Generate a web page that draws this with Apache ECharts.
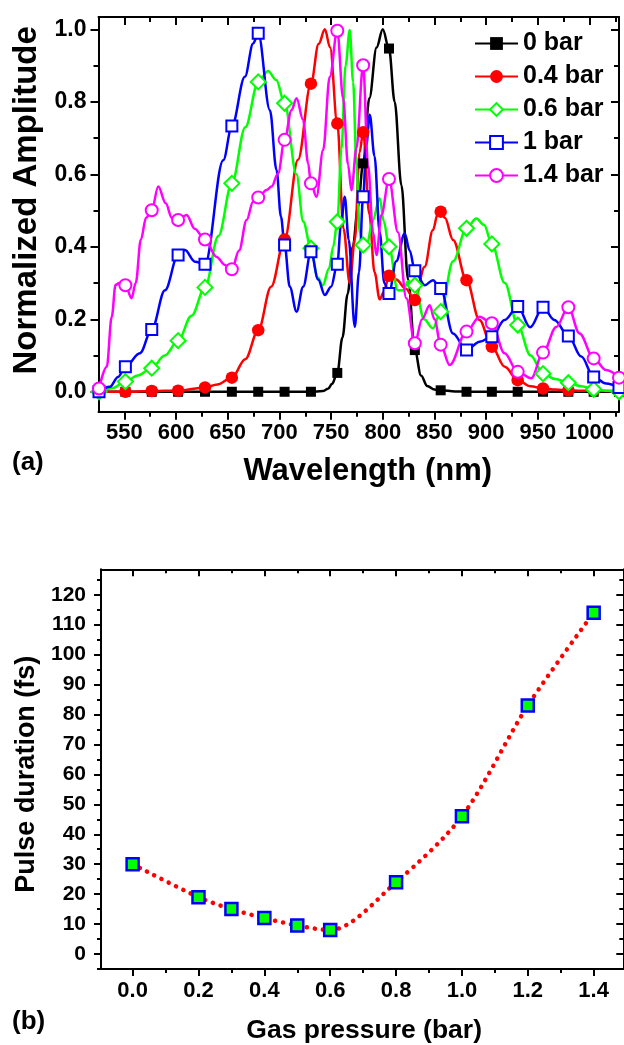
<!DOCTYPE html>
<html>
<head>
<meta charset="utf-8">
<script src="https://cdn.jsdelivr.net/npm/echarts@6/dist/echarts.min.js"></script>
<style>
  html, body { margin: 0; padding: 0; background: #fff; }
  #chart { width: 624px; height: 1045px; }
</style>
</head>
<body>
<div id="chart"></div>
<script>
// ---- (a) spectra ----
// wavelengths where the symbols sit (shared by all five spectra)
const markerWl = [525.5, 551, 576.5, 602, 628, 654, 679.5, 705, 730.5, 756, 781, 806, 831, 856, 881, 905.5, 930.5, 955, 979.5, 1004, 1028.5]
const seriesNames = ['0 bar', '0.4 bar', '0.6 bar', '1 bar', '1.4 bar']

const bar0Marks = [0, 0, 0, 0, 0, 0, 0, 0, 0, 0.052, 0.63, 0.947, 0.115, 0.004, 0, 0, 0, 0, 0, 0, 0]
const bar0Curve = [[700, 0], [742, 0.002], [747, 0.008], [751, 0.022], [761, 0.15], [766, 0.27], [771, 0.4], [776, 0.51],
  [787, 0.81], [794, 0.95], [800, 1.0], [811.5, 0.8], [818, 0.57], [824.5, 0.31], [837, 0.045], [843, 0.016], [850, 0.006], [870, 0.001]]

const bar04Marks = [0, 0, 0.002, 0.003, 0.012, 0.039, 0.17, 0.42, 0.85, 0.74, 0.716, 0.32, 0.253, 0.497, 0.308, 0.124, 0.032, 0.009, 0.004, 0.003, 0.002]
const bar04Curve = [[640, 0.02], [667, 0.09], [692, 0.29], [718, 0.64], [738, 0.96], [744, 1.0], [749, 0.95], [762, 0.45], [768, 0.3],
  [773, 0.42], [777.5, 0.66], [787, 0.49], [792, 0.33], [797, 0.255], [801, 0.275], [813, 0.31], [822, 0.285], [840.5, 0.345],
  [848.5, 0.446], [853, 0.49], [860, 0.48], [868, 0.419], [893.5, 0.198], [918, 0.069], [943, 0.015], [967, 0.006], [992, 0.003], [1016, 0.002]]

const bar06Marks = [0, 0.028, 0.065, 0.141, 0.288, 0.575, 0.855, 0.796, 0.396, 0.469, 0.405, 0.4, 0.294, 0.221, 0.451, 0.408, 0.184, 0.05, 0.025, 0.007, 0]
const bar06Curve = [[538, 0.01], [563, 0.045], [589, 0.1], [615, 0.21], [641, 0.43], [667, 0.73], [689, 0.885], [697, 0.86],
  [716.5, 0.6], [723, 0.47], [737, 0.315], [742, 0.294], [748, 0.34], [752, 0.4], [760, 0.67], [764, 0.9], [768, 0.998],
  [771.3, 0.855], [774.5, 0.626], [777.7, 0.44], [785, 0.41], [790, 0.47], [797, 0.534], [801, 0.47], [814.5, 0.28],
  [819.5, 0.28], [824.5, 0.305], [840, 0.2], [848.5, 0.175], [868, 0.36], [890.5, 0.478], [898, 0.46], [918, 0.3],
  [943, 0.1], [967, 0.035], [992, 0.015], [1016, 0.003]]

const bar1Marks = [0, 0.069, 0.172, 0.377, 0.352, 0.733, 0.989, 0.405, 0.386, 0.352, 0.538, 0.271, 0.334, 0.285, 0.115, 0.152, 0.235, 0.233, 0.154, 0.041, 0.012]
const bar1Curve = [[536, 0.014], [544, 0.041], [565, 0.106], [589.3, 0.28], [608.6, 0.391], [618.3, 0.359], [645.7, 0.639],
  [666.6, 0.869], [674.6, 0.961], [690.8, 0.777], [697.2, 0.612], [701.5, 0.483], [710, 0.29], [716.6, 0.221], [723, 0.29],
  [737.5, 0.31], [743.9, 0.267], [750, 0.29], [759.5, 0.46], [763.2, 0.538], [767, 0.42], [772.9, 0.179], [777, 0.33],
  [784, 0.68], [787.4, 0.764], [792, 0.65], [797, 0.44], [801.5, 0.3], [813, 0.36], [821.2, 0.437], [826, 0.39],
  [840.6, 0.294], [848.6, 0.308], [867.9, 0.161], [893.7, 0.138], [917.8, 0.198], [942.6, 0.178], [966, 0.198],
  [992, 0.097], [1016, 0.023]]

const bar14Marks = [0.009, 0.294, 0.501, 0.474, 0.42, 0.338, 0.536, 0.695, 0.575, 0.996, 0.901, 0.587, 0.134, 0.13, 0.166, 0.189, 0.055, 0.108, 0.233, 0.092, 0.039]
const bar14Curve = [[533, 0.069], [537.8, 0.207], [541.5, 0.295], [545, 0.3], [557, 0.258], [561, 0.3], [566, 0.42], [571, 0.48],
  [582.8, 0.566], [590, 0.52], [596, 0.48], [610.3, 0.488], [618, 0.45], [639.3, 0.372], [647.3, 0.35], [661, 0.39],
  [668.3, 0.474], [674.6, 0.525], [687.6, 0.557], [692.4, 0.566], [698.8, 0.603], [711.7, 0.777], [716.6, 0.81],
  [722.9, 0.75], [727.8, 0.63], [735.9, 0.538], [742.3, 0.667], [748.7, 0.869], [761.6, 0.81], [766.4, 0.626],
  [769.7, 0.556], [774.5, 0.672], [785.7, 0.626], [790.6, 0.44], [793.9, 0.377], [798.7, 0.488], [814.7, 0.44],
  [822.8, 0.258], [838, 0.2], [845.4, 0.239], [850, 0.2], [864.7, 0.074], [893.7, 0.207], [917.8, 0.106],
  [943.6, 0.037], [967.8, 0.179], [990.3, 0.161], [1016, 0.06]]

// ---- (b) pulse duration ----
const gasPressure = [0, 0.2, 0.3, 0.4, 0.5, 0.6, 0.8, 1.0, 1.2, 1.4]
const pulseDuration = [30, 19, 15, 12, 9.5, 8, 24, 46, 83, 114]

// ---- ticks ----
const wlTicks = [550, 600, 650, 700, 750, 800, 850, 900, 950, 1000]
const wlMinor = [575, 625, 675, 725, 775, 825, 875, 925, 975, 1025]
const ampTicks = [0, 0.2, 0.4, 0.6, 0.8, 1.0]
const ampMinor = [0.1, 0.3, 0.5, 0.7, 0.9]
const pTicks = [0, 0.2, 0.4, 0.6, 0.8, 1.0, 1.2, 1.4]
const pMinor = [-0.1, 0.1, 0.3, 0.5, 0.7, 0.9, 1.1, 1.3]
const fsTicks = [0, 10, 20, 30, 40, 50, 60, 70, 80, 90, 100, 110, 120]
const fsMinor = [-5, 5, 15, 25, 35, 45, 55, 65, 75, 85, 95, 105, 115, 125]

const FONT = '"Liberation Sans", Arial, sans-serif'
const spine = { show: true, onZero: false, lineStyle: { color: '#000', width: 2 } }
const tickLine = { color: '#000', width: 2 }

function axis(o) {
  return Object.assign({
    type: 'value',
    splitLine: { show: false },
    axisLine: { show: false, onZero: false },
    axisTick: { show: false },
    axisLabel: { show: false },
  }, o)
}

function ticks(values, length, inside) {
  return { show: true, inside: inside, length: length, customValues: values, lineStyle: tickLine }
}

function labels(values, size, margin, fmt) {
  return { show: true, customValues: values, fontSize: size, fontWeight: 'bold', color: '#000', fontFamily: FONT, margin: margin, formatter: fmt }
}

function spectrum(curve, marks) {
  const pts = curve.map((p) => ({ value: p, symbol: 'none' }))
  marks.forEach((v, i) => pts.push({ value: [markerWl[i], v] }))
  return pts.sort((a, b) => a.value[0] - b.value[0])
}

const styles = [
  { color: '#000000', symbol: 'rect', size: 10 },
  { color: '#ff0000', symbol: 'circle', size: 12.5 },
  { color: '#00ff00', symbol: 'emptyDiamond', size: 15 },
  { color: '#0000ff', symbol: 'emptyRect', size: 11 },
  { color: '#ff00ff', symbol: 'emptyCircle', size: 12 },
]
const curves = [bar0Curve, bar04Curve, bar06Curve, bar1Curve, bar14Curve]
const marks = [bar0Marks, bar04Marks, bar06Marks, bar1Marks, bar14Marks]

const wl = { min: 525, max: 1028.5 }
const amp = { min: -0.055, max: 1.034 }
const gp = { min: -0.096, max: 1.49 }
const fs = { min: -5, max: 128.5 }

const chart = echarts.init(document.getElementById('chart'), null, { renderer: 'canvas' })

chart.setOption({
  animation: false,
  backgroundColor: '#fff',
  grid: [
    { left: 98.5, top: 17, width: 520.5, height: 394.7 },
    { left: 101, top: 569.3, width: 522.3, height: 400.7 },
  ],
  legend: {
    data: seriesNames,
    orient: 'vertical',
    left: 469,
    top: 26,
    itemWidth: 43,
    itemHeight: 16,
    itemGap: 8,
    textStyle: { fontSize: 25, fontWeight: 'bold', color: '#000', fontFamily: FONT },
  },
  xAxis: [
    axis(Object.assign({ gridIndex: 0, position: 'bottom', axisLine: spine,
      axisTick: ticks(wlTicks, 8, false), axisLabel: labels(wlTicks, 22, 10, (v) => String(Math.round(v))),
      name: 'Wavelength (nm)', nameLocation: 'middle', nameGap: 44,
      nameTextStyle: { fontSize: 31, fontWeight: 'bold', color: '#000', fontFamily: FONT, padding: [0, 0, 0, 18] } }, wl)),
    axis(Object.assign({ gridIndex: 0, position: 'bottom', axisTick: ticks(wlMinor, 5, false) }, wl)),
    axis(Object.assign({ gridIndex: 0, position: 'top', axisLine: spine, axisTick: ticks(wlTicks, 8, true) }, wl)),
    axis(Object.assign({ gridIndex: 0, position: 'top', axisTick: ticks(wlMinor, 5, true) }, wl)),

    axis(Object.assign({ gridIndex: 1, position: 'bottom', axisLine: spine,
      axisTick: ticks(pTicks, 7, false), axisLabel: labels(pTicks, 22, 11, (v) => v.toFixed(1)),
      name: 'Gas pressure (bar)', nameLocation: 'middle', nameGap: 48,
      nameTextStyle: { fontSize: 26.5, fontWeight: 'bold', color: '#000', fontFamily: FONT, padding: [0, 0, 0, 4] } }, gp)),
    axis(Object.assign({ gridIndex: 1, position: 'bottom', axisTick: ticks(pMinor, 4, false) }, gp)),
    axis(Object.assign({ gridIndex: 1, position: 'top', axisLine: spine, axisTick: ticks(pTicks, 7, true) }, gp)),
    axis(Object.assign({ gridIndex: 1, position: 'top', axisTick: ticks(pMinor, 4, true) }, gp)),
  ],
  yAxis: [
    axis(Object.assign({ gridIndex: 0, position: 'left', axisLine: spine,
      axisTick: ticks(ampTicks, 8, false), axisLabel: labels(ampTicks, 23, 12, (v) => v.toFixed(1)),
      name: 'Normalized Amplitude', nameLocation: 'middle', nameGap: 43,
      nameTextStyle: { fontSize: 33, fontWeight: 'bold', color: '#000', fontFamily: FONT, padding: [0, 0, 0, 28] } }, amp)),
    axis(Object.assign({ gridIndex: 0, position: 'left', axisTick: ticks(ampMinor, 5, false) }, amp)),
    axis(Object.assign({ gridIndex: 0, position: 'right', axisLine: spine, axisTick: ticks(ampTicks, 8, true) }, amp)),
    axis(Object.assign({ gridIndex: 0, position: 'right', axisTick: ticks(ampMinor, 5, true) }, amp)),

    axis(Object.assign({ gridIndex: 1, position: 'left', axisLine: spine,
      axisTick: ticks(fsTicks, 7, false), axisLabel: labels(fsTicks, 21, 15, (v) => String(Math.round(v))),
      name: 'Pulse duration (fs)', nameLocation: 'middle', nameGap: 58,
      nameTextStyle: { fontSize: 27, fontWeight: 'bold', color: '#000', fontFamily: FONT, padding: [0, 10, 0, 0] } }, fs)),
    axis(Object.assign({ gridIndex: 1, position: 'left', axisTick: ticks(fsMinor, 4, false) }, fs)),
    axis(Object.assign({ gridIndex: 1, position: 'right', axisLine: spine, axisTick: ticks(fsTicks, 7, true) }, fs)),
    axis(Object.assign({ gridIndex: 1, position: 'right', axisTick: ticks(fsMinor, 4, true) }, fs)),
  ],
  graphic: [
    { type: 'text', left: 12, top: 450, style: { text: '(a)', font: 'bold 26px "Liberation Sans", Arial', fill: '#000' } },
    { type: 'text', left: 12, top: 1009, style: { text: '(b)', font: 'bold 26px "Liberation Sans", Arial', fill: '#000' } },
  ],
  series: seriesNames.map((name, i) => ({
    name: name,
    type: 'line',
    xAxisIndex: 0,
    yAxisIndex: 0,
    data: spectrum(curves[i], marks[i]),
    smooth: 0.35,
    smoothMonotone: 'x',
    symbol: styles[i].symbol,
    symbolSize: styles[i].size,
    lineStyle: { color: styles[i].color, width: 2.5 },
    itemStyle: { color: styles[i].color, borderWidth: 2 },
    emphasis: { disabled: true },
  })).concat([{
    name: 'Pulse duration',
    type: 'line',
    xAxisIndex: 4,
    yAxisIndex: 4,
    data: gasPressure.map((p, i) => [p, pulseDuration[i]]),
    smooth: 0.3,
    symbol: 'rect',
    symbolSize: 12,
    lineStyle: { color: '#ff0000', width: 4.5, type: [0.1, 8], cap: 'round' },
    itemStyle: { color: '#00ff00', borderColor: '#0000ff', borderWidth: 2.5 },
    emphasis: { disabled: true },
  }]),
})
</script>
</body>
</html>
